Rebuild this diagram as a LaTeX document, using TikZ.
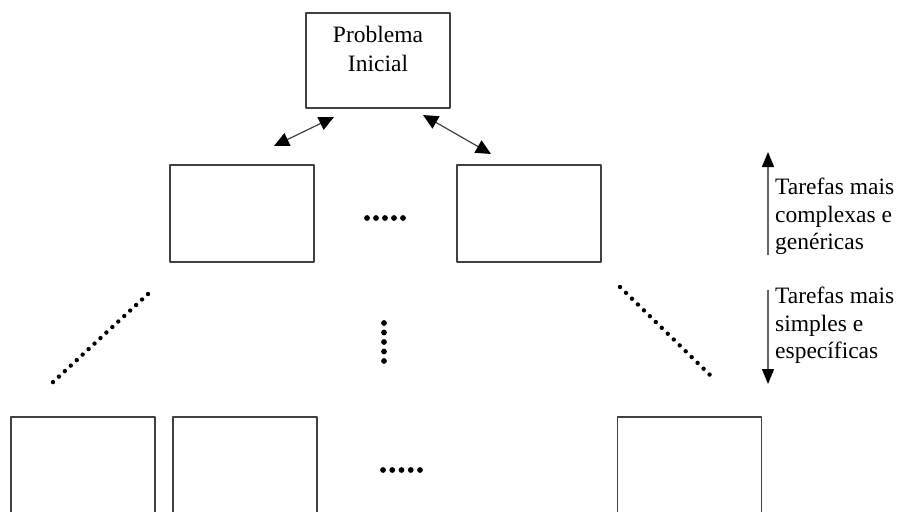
\documentclass[tikz,border=0pt]{standalone}
\usepackage{fontspec}
\setmainfont{Liberation Serif}
\usetikzlibrary{arrows.meta}
\begin{document}
\begin{tikzpicture}[x=1pt,y=-1pt,line join=round,
 font=\fontsize{23.5}{27.5}\selectfont,
 tarefa/.style={draw=black!75,line width=1.3pt,minimum width=144pt,minimum height=97pt,inner sep=0pt},
 seta/.style={draw=black!75,line width=1.2pt,{Triangle[length=15pt,width=14pt,color=black]}-{Triangle[length=15pt,width=14pt,color=black]}},
 nivel/.style={draw=black!60,line width=1.4pt,-{Triangle[length=15pt,width=12pt,color=black]}},
 pontos/.style={line width=5.8pt,line cap=round},
 diagonal/.style={line width=4.4pt,line cap=round}]
 \useasboundingbox (0,0) rectangle (901,511);
 \clip (0,0) rectangle (901,511);
 % topo
 \node[tarefa,minimum height=95pt] (ini) at (378,60.5) {};
 \node[anchor=north,align=center,inner sep=0pt,font=\fontsize{23.5}{29}\selectfont] (initxt) at (378,26) {Problema\\Inicial};
 % nivel intermedio
 \node[tarefa] (m1) at (242,213.5) {};
 \node[tarefa] (m2) at (529,213.5) {};
 % nivel de baixo
 \node[tarefa] (b1) at (83,465.5) {};
 \node[tarefa] (b2) at (245,465.5) {};
 \node[tarefa] (b3) at (689.5,465.5) {};
 % setas entre niveis
 \coordinate (s1a) at (274,146); \coordinate (s1b) at (334,117);
 \coordinate (s2a) at (423,115); \coordinate (s2b) at (491,154);
 \draw[seta] (s1a)--(s1b);
 \draw[seta] (s2a)--(s2b);
 % reticencias
 \draw[pontos,dash pattern=on 0pt off 9pt] (367,218)--(404,218);
 \draw[pontos,dash pattern=on 0pt off 9.5pt] (384,323)--(384,362);
 \draw[pontos,dash pattern=on 0pt off 9.25pt] (383,470)--(420.5,470);
 \draw[diagonal,dash pattern=on 0pt off 8.1pt] (148,294)--(52,383);
 \draw[diagonal,dash pattern=on 0pt off 8.35pt] (620,287)--(710,375);
 % escala lateral
 \coordinate (up0) at (768,255); \coordinate (up1) at (768,152);
 \coordinate (dn0) at (768,290); \coordinate (dn1) at (768,384);
 \draw[nivel] (up0)--(up1);
 \draw[nivel] (dn0)--(dn1);
 \node[anchor=north west,align=left,inner sep=0pt] (complexas) at (775,178) {Tarefas mais\\complexas e\\genéricas};
 \node[anchor=north west,align=left,inner sep=0pt] (simples) at (775,287) {Tarefas mais\\simples e\\específicas};
\end{tikzpicture}
\end{document}
